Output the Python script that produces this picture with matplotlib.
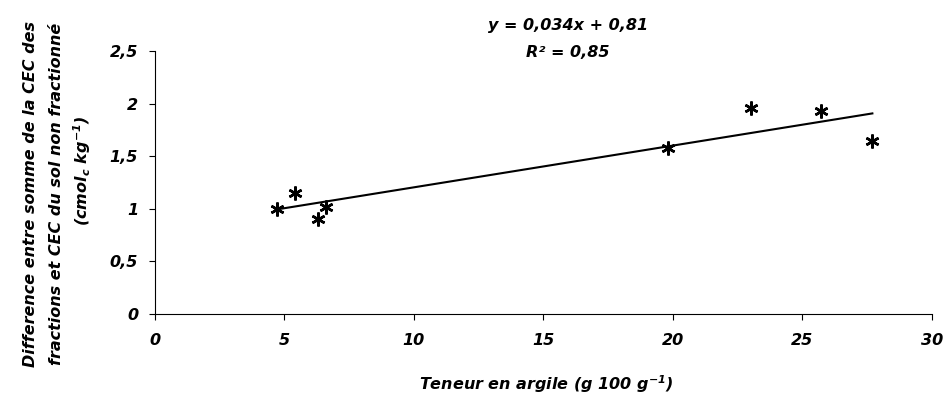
import numpy as np
import matplotlib.pyplot as plt

# clay content vs CEC difference
argile = [4.7, 5.4, 6.3, 6.6, 19.8, 23.0, 25.7, 27.7]
diff_cec = [1.0, 1.15, 0.9, 1.02, 1.58, 1.96, 1.93, 1.64]
xticks = [0, 5, 10, 15, 20, 25, 30]
yticks = [0, 0.5, 1, 1.5, 2, 2.5]
yticklabels = ['0', '0,5', '1', '1,5', '2', '2,5']

plt.rcParams['font.family'] = ['DejaVu Sans']
plt.rcParams['font.weight'] = 'bold'
plt.rcParams['font.style'] = 'italic'
plt.rcParams['mathtext.fontset'] = 'dejavusans'

fig = plt.figure(figsize=(9.5, 3.96), dpi=100)
ax = fig.add_axes([0.163, 0.208, 0.818, 0.663])

x = np.array(argile)
y = np.array(diff_cec)
a, b = np.polyfit(x, y, 1)
xl = np.array([x.min(), x.max()])
ax.plot(xl, a * xl + b, color='black', lw=1.5)
ax.plot(x, y, linestyle='none', marker=(6, 2, 0), markersize=10,
        markeredgewidth=1.8, color='black')

ax.set_xlim(0, 30)
ax.set_ylim(0, 2.5)
ax.set_xticks(xticks)
ax.set_xticklabels([str(t) for t in xticks])
ax.set_yticks(yticks)
ax.set_yticklabels(yticklabels)
ax.spines['top'].set_visible(False)
ax.spines['right'].set_visible(False)
ax.tick_params(axis='both', labelsize=11.5, length=4, width=0.8)
ax.tick_params(axis='x', pad=10)
ax.tick_params(axis='y', pad=8)

fs = 11.5
fig.text(0.598, 0.935, 'y = 0,034x + 0,81', ha='center', va='center', fontsize=fs)
fig.text(0.598, 0.868, 'R² = 0,85', ha='center', va='center', fontsize=fs)

fig.text(0.032, 0.51, 'Difference entre somme de la CEC des',
         rotation=90, ha='center', va='center', fontsize=fs)
fig.text(0.059, 0.51, 'fractions et CEC du sol non fractionné',
         rotation=90, ha='center', va='center', fontsize=fs)
fig.text(0.087, 0.57, r'(cmol$_{\mathit{c}}$ kg$^{\mathit{-1}}$)',
         rotation=90, ha='center', va='center', fontsize=fs)

fig.text(0.575, 0.03, r'Teneur en argile (g 100 g$^{\mathit{-1}}$)',
         ha='center', va='center', fontsize=fs)

fig.savefig('out.png', dpi=100)
